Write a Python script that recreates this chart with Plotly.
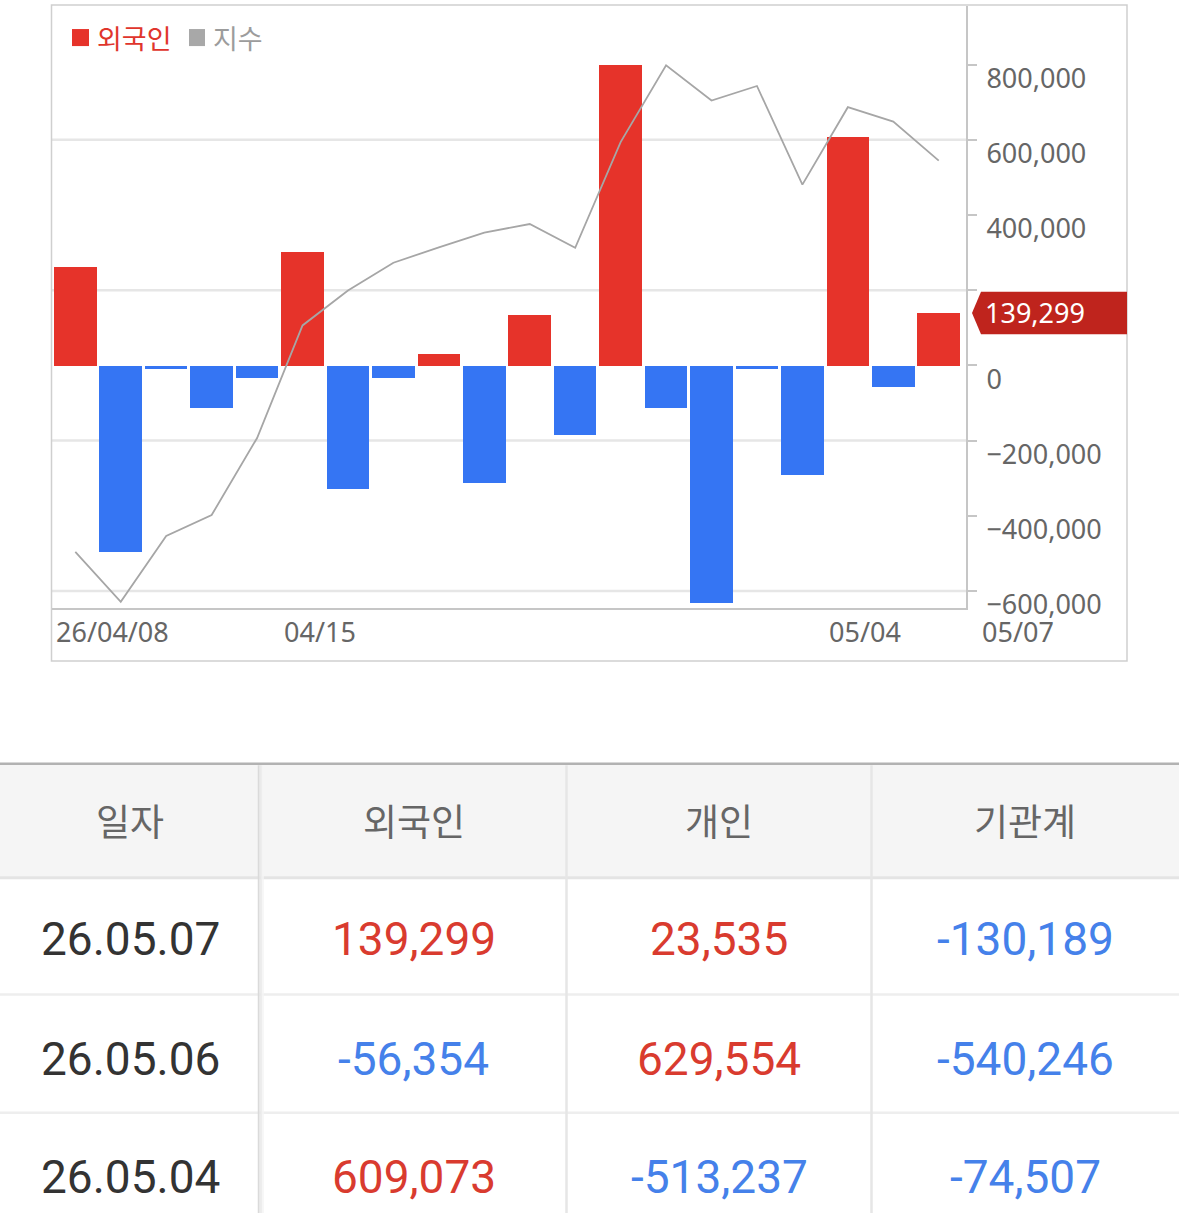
import plotly.graph_objects as go

W = 1179
FIG_H = 1227
CAPTURE_H = 1243   # the page is captured 16px taller than the window and then fitted to 1227

# ---------------- data ----------------
DATES = ["04/08", "04/09", "04/10", "04/13", "04/14", "04/15", "04/16", "04/17",
         "04/20", "04/21", "04/22", "04/23", "04/24", "04/27", "04/28", "04/29",
         "04/30", "05/04", "05/06", "05/07"]
FOREIGN = [263000, -495000, -8000, -111000, -32000, 303000, -328000, -32000,
           31000, -312000, 135000, -184000, 799000, -112000, -632000, -8000,
           -289000, 609073, -56354, 139299]
INDEX = [2356.3, 2306.5, 2372.0, 2392.9, 2469.6, 2581.6, 2616.4, 2644.0,
         2659.3, 2674.0, 2682.5, 2658.9, 2764.1, 2840.5, 2805.4, 2819.9,
         2721.7, 2798.8, 2784.4, 2745.6]
AXIS_TICKS = [-600000, -400000, -200000, 0, 200000, 400000, 600000, 800000]
GRID_VALUES = [-600000, -200000, 200000, 600000]
DATE_LABELS = ["26/04/08", "04/15", "05/04", "05/07"]
DATE_LABEL_AT = ["04/08", "04/15", "05/04", "05/07"]
LEGEND_NAMES = ["외국인", "지수"]

TABLE_HEADER = ["일자", "외국인", "개인", "기관계"]
TABLE_DATES = ["26.05.07", "26.05.06", "26.05.04"]
TABLE_FOREIGN = [139299, -56354, 609073]
TABLE_INDIVIDUAL = [23535, 629554, -513237]
TABLE_INSTITUTION = [-130189, -540246, -74507]

# ---------------- styles ----------------
RED = "#e6332a"
BLUE = "#3575f3"
LINE_GRAY = "#a6a6a6"
AXIS_GRAY = "#c6c6c6"
TXT_GRAY = "#666666"
TAG_RED = "#bf241d"
T_RED = "#d93b2f"
T_BLUE = "#4581ea"
CHART_FONT = "Noto Sans"
KR_FONT = "Noto Sans CJK KR"
NUM_FONT = "Roboto"
SY = CAPTURE_H / 1227.0


def px(x):
    return x / W


def py(y):
    return max(0.0, 1 - y * SY / FIG_H)


last_val = FOREIGN[-1]
# the price tag covers the tick label next to it
tick_text = ["" if abs(v - last_val) < 100000 else f"{v:,}".replace("-", "\u2212") for v in AXIS_TICKS]

fig = go.Figure()

fig.add_trace(go.Bar(
    x=DATES, y=FOREIGN,
    marker=dict(color=[RED if v > 0 else BLUE for v in FOREIGN], line=dict(width=0)),
    width=0.937, xaxis="x", yaxis="y", hoverinfo="skip",
))
fig.add_trace(go.Scatter(
    x=DATES, y=INDEX, mode="lines",
    line=dict(color=LINE_GRAY, width=1.8),
    xaxis="x", yaxis="y2", hoverinfo="skip",
))

shapes = []
annotations = []

# gridlines
for v in GRID_VALUES:
    shapes.append(dict(type="line", xref="x domain", x0=0, x1=1, yref="y", y0=v, y1=v,
                       line=dict(color="#e6e6e6", width=2.5), layer="below"))

# outer chart box
shapes.append(dict(type="rect", xref="paper", yref="paper",
                   x0=px(51.5), x1=px(1127), y0=py(660), y1=py(5),
                   line=dict(color="#cfcfcf", width=1.5), layer="below"))

# legend
legend_cfg = [(72, 89, RED, 95, "#e0352c"), (189, 205, "#a8a8a8", 211, "#9c9c9c")]
for name, (sx0, sx1, scol, tx, tcol) in zip(LEGEND_NAMES, legend_cfg):
    shapes.append(dict(type="rect", xref="paper", yref="paper",
                       x0=px(sx0), x1=px(sx1), y0=py(46), y1=py(29),
                       fillcolor=scol, line=dict(width=0)))
    annotations.append(dict(text=name, xref="paper", yref="paper", x=px(tx), y=py(37),
                            xanchor="left", yanchor="middle", showarrow=False,
                            font=dict(family=KR_FONT, size=27, color=tcol)))

# date labels
shifts = [-21, -21, -21, 41]
for lab, at, sh in zip(DATE_LABELS, DATE_LABEL_AT, shifts):
    annotations.append(dict(text=lab, xref="x", yref="paper", x=at, y=py(631),
                            xanchor="left", yanchor="middle", xshift=sh, showarrow=False,
                            font=dict(family=CHART_FONT, size=27, color=TXT_GRAY)))

# last value tag
hh = 21 * SY
shapes.append(dict(type="path", xref="paper", yref="y", ysizemode="pixel", yanchor=last_val,
                   path=f"M {px(972)},0 L {px(981)},{hh} L {px(1127)},{hh} L {px(1127)},{-hh} L {px(981)},{-hh} Z",
                   fillcolor=TAG_RED, line=dict(width=0)))
annotations.append(dict(text=f"{last_val:,}", xref="paper", yref="y", x=px(983), y=last_val,
                        xanchor="left", yanchor="middle", showarrow=False,
                        font=dict(family=CHART_FONT, size=27, color="white")))

# ---------------- table ----------------
col_centers = [130, 414, 719, 1025]
row_centers = [938, 1057, 1175]

shapes.append(dict(type="rect", xref="paper", yref="paper", x0=0, x1=1, y0=py(876), y1=py(763),
                   fillcolor="#f5f5f5", line=dict(width=0), layer="below"))
shapes.append(dict(type="line", xref="paper", yref="paper", x0=0, x1=1, y0=py(762.5), y1=py(762.5),
                   line=dict(color="#b2b2b2", width=2.5)))
shapes.append(dict(type="line", xref="paper", yref="paper", x0=0, x1=1, y0=py(876.5), y1=py(876.5),
                   line=dict(color="#e4e4e4", width=3)))
for yy in [993, 1111]:
    shapes.append(dict(type="line", xref="paper", yref="paper", x0=0, x1=1, y0=py(yy), y1=py(yy),
                       line=dict(color="#eeeeee", width=2.5)))
for xx in [566.5, 871.5]:
    shapes.append(dict(type="line", xref="paper", yref="paper", x0=px(xx), x1=px(xx), y0=0, y1=py(764),
                       line=dict(color="#e6e6e6", width=2.5)))
for xx, c in [(258.5, "#dadada"), (260, "#e4e4e4"), (261.5, "#ededed"), (263, "#f5f5f5")]:
    shapes.append(dict(type="line", xref="paper", yref="paper", x0=px(xx), x1=px(xx), y0=0, y1=py(764),
                       line=dict(color=c, width=1.5)))

for txt, cx in zip(TABLE_HEADER, col_centers):
    annotations.append(dict(text=txt, xref="paper", yref="paper", x=px(cx), y=py(819),
                            xanchor="center", yanchor="middle", showarrow=False,
                            font=dict(family=KR_FONT, size=37, color=TXT_GRAY)))

for i, ry in enumerate(row_centers):
    annotations.append(dict(text=TABLE_DATES[i], xref="paper", yref="paper", x=px(col_centers[0]), y=py(ry),
                            xanchor="center", yanchor="middle", showarrow=False,
                            font=dict(family=NUM_FONT, size=46, color="#333333")))
    for cx, arr in zip(col_centers[1:], [TABLE_FOREIGN, TABLE_INDIVIDUAL, TABLE_INSTITUTION]):
        v = arr[i]
        annotations.append(dict(text=f"{v:,}", xref="paper", yref="paper", x=px(cx), y=py(ry),
                                xanchor="center", yanchor="middle", showarrow=False,
                                font=dict(family=NUM_FONT, size=46, color=T_RED if v > 0 else T_BLUE)))

fig.update_layout(
    width=W, height=FIG_H,
    margin=dict(l=0, r=0, t=0, b=0),
    paper_bgcolor="white", plot_bgcolor="white",
    showlegend=False,
    bargap=0,
    xaxis=dict(domain=[px(52), px(966)], type="category", range=[-0.513, 19.6],
               showline=True, linecolor=AXIS_GRAY, linewidth=2, showgrid=False,
               showticklabels=False, ticks="", zeroline=False, anchor="y", fixedrange=True),
    yaxis=dict(domain=[py(607.5), py(5.5)], side="right", range=[-646400, 957000],
               tickvals=AXIS_TICKS, ticktext=tick_text, ticks="outside", ticklen=9,
               tickcolor=AXIS_GRAY, tickwidth=2, showline=True, linecolor=AXIS_GRAY,
               linewidth=2, showgrid=False, zeroline=False, anchor="x",
               tickfont=dict(family=CHART_FONT, size=27, color=TXT_GRAY),
               ticklabelstandoff=4, ticklabelshift=14, fixedrange=True),
    yaxis2=dict(overlaying="y", range=[2300, 2900], visible=False, anchor="x",
                domain=[py(607.5), py(5.5)], fixedrange=True),
    shapes=shapes,
    annotations=annotations,
)

fig.write_html("out.html", config={"displayModeBar": False},
               post_script="document.body.style.margin='0px';")
